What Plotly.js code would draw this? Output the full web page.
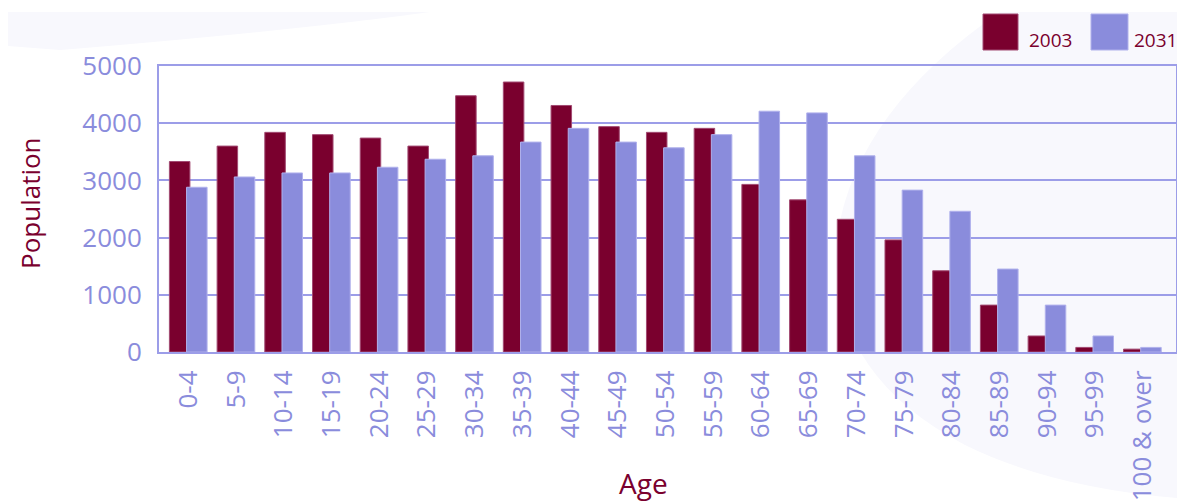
<!DOCTYPE html>
<html>
<head>
<meta charset="utf-8">
<script src="https://cdn.plot.ly/plotly-3.0.1.min.js"></script>
<style>
  html, body { margin: 0; padding: 0; background: #ffffff; }
  #chart { width: 1177px; height: 501px; }
</style>
</head>
<body>
<div id="chart"></div>
<script>
// Age groups and population (thousands) for the two years
const ageGroups = ['0-4', '5-9', '10-14', '15-19', '20-24', '25-29', '30-34', '35-39',
  '40-44', '45-49', '50-54', '55-59', '60-64', '65-69', '70-74', '75-79', '80-84',
  '85-89', '90-94', '95-99', '100 & over'];
const pop2003 = [3330, 3600, 3840, 3800, 3740, 3600, 4480, 4720, 4310, 3940, 3840,
  3910, 2930, 2660, 2320, 1960, 1420, 820, 280, 80, 50];
const pop2031 = [2880, 3060, 3130, 3130, 3230, 3370, 3430, 3670, 3910, 3670, 3570,
  3800, 4210, 4180, 3430, 2830, 2460, 1450, 820, 280, 80];
const seriesNames = ['2003', '2031'];
const yTicks = [0, 1000, 2000, 3000, 4000, 5000];

const MAROON = '#7a002e';
const LAVENDER = '#8a8cdc';
const AXIS = '#9c9de8';
const TEXT_FONT = 'Open Sans, Noto Sans, sans-serif';

// Plot area geometry in page pixels
const W = 1177, H = 501;
const M = { l: 159, r: 1, t: 66, b: 149 };
const PW = W - M.l - M.r, PH = H - M.t - M.b;
const px = x => (x - M.l) / PW;
const py = y => (H - M.b - y) / PH;

// Builds a paper-referenced path from page-pixel commands
function pathFrom(cmds) {
  return cmds.map(c => {
    const [op, ...nums] = c;
    const out = [];
    for (let i = 0; i < nums.length; i += 2) {
      out.push(px(nums[i]).toFixed(4) + ',' + py(nums[i + 1]).toFixed(4));
    }
    return op + (out.length ? ' ' + out.join(' ') : '');
  }).join(' ');
}

const traces = [
  {
    type: 'bar', name: seriesNames[0], x: ageGroups, y: pop2003,
    width: 0.43, offset: -0.40,
    marker: { color: MAROON, line: { color: '#a24a72', width: 1 } },
    hoverinfo: 'x+y+name'
  },
  {
    type: 'bar', name: seriesNames[1], x: ageGroups, y: pop2031,
    width: 0.43, offset: -0.04,
    marker: { color: LAVENDER, line: { color: '#b0b1ec', width: 1 } },
    hoverinfo: 'x+y+name'
  }
];

const bgFill = '#f8f8fd';
const shapes = [
  // soft backdrop band, top left
  {
    type: 'path', xref: 'paper', yref: 'paper', layer: 'below',
    fillcolor: bgFill, line: { width: 0 },
    path: pathFrom([['M', 8, 12], ['L', 430, 12], ['Q', 300, 30, 60, 50], ['L', 8, 46], ['Z']])
  },
  // soft backdrop sweep, right side
  {
    type: 'path', xref: 'paper', yref: 'paper', layer: 'below',
    fillcolor: bgFill, line: { width: 0 },
    path: pathFrom([['M', 1177, 12], ['L', 1000, 12], ['Q', 858, 110, 838, 232],
      ['Q', 822, 370, 965, 445], ['Q', 1050, 487, 1177, 498], ['Z']])
  },
  // legend swatches
  {
    type: 'rect', xref: 'paper', yref: 'paper',
    x0: px(983), x1: px(1018), y0: py(50), y1: py(14),
    fillcolor: MAROON, line: { color: '#a24a72', width: 1 }
  },
  {
    type: 'rect', xref: 'paper', yref: 'paper',
    x0: px(1091), x1: px(1128), y0: py(50), y1: py(14),
    fillcolor: LAVENDER, line: { color: '#b0b1ec', width: 1 }
  }
];

const annotations = [
  {
    text: 'Population', xref: 'paper', yref: 'paper', x: px(30), y: py(203),
    textangle: -90, showarrow: false, xanchor: 'center', yanchor: 'middle',
    font: { family: TEXT_FONT, size: 26, color: MAROON }
  },
  {
    text: 'Age', xref: 'paper', yref: 'paper', x: px(643), y: py(483),
    showarrow: false, xanchor: 'center', yanchor: 'middle',
    font: { family: TEXT_FONT, size: 28, color: MAROON }
  },
  {
    text: seriesNames[0], xref: 'paper', yref: 'paper', x: px(1027), y: py(40),
    showarrow: false, xanchor: 'left', yanchor: 'middle',
    font: { family: TEXT_FONT, size: 19, color: MAROON }
  },
  {
    text: seriesNames[1], xref: 'paper', yref: 'paper', x: px(1132), y: py(40),
    showarrow: false, xanchor: 'left', yanchor: 'middle',
    font: { family: TEXT_FONT, size: 19, color: MAROON }
  }
];

const layout = {
  width: W, height: H,
  margin: M,
  paper_bgcolor: '#ffffff',
  plot_bgcolor: 'rgba(0,0,0,0)',
  barmode: 'overlay',
  showlegend: false,
  font: { family: TEXT_FONT, color: LAVENDER },
  xaxis: {
    type: 'category',
    range: [-0.618, 20.70],
    tickangle: -90,
    tickfont: { family: TEXT_FONT, size: 26, color: LAVENDER },
    ticks: '', ticklabelstandoff: 6,
    showgrid: false, zeroline: false,
    showline: true, mirror: true, linecolor: AXIS, linewidth: 2
  },
  yaxis: {
    range: [0, 5000],
    tickvals: yTicks,
    ticktext: yTicks.map(String),
    tickfont: { family: TEXT_FONT, size: 26, color: LAVENDER },
    ticks: '', ticklabelstandoff: 10,
    showgrid: true, gridcolor: AXIS, gridwidth: 2,
    zeroline: false,
    showline: true, mirror: true, linecolor: AXIS, linewidth: 2
  },
  shapes: shapes,
  annotations: annotations
};

Plotly.newPlot('chart', traces, layout, { staticPlot: true, displayModeBar: false });
</script>
</body>
</html>
